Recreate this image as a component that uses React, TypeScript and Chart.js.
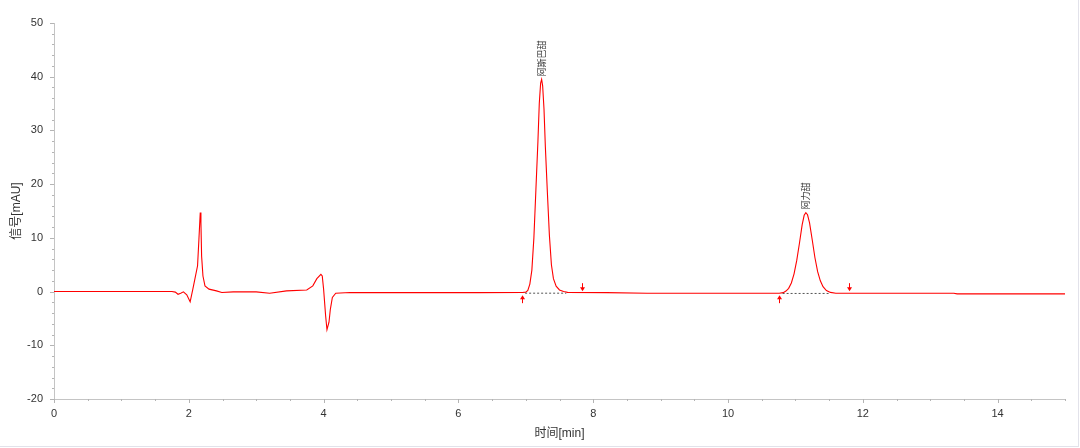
import React, { useEffect, useRef } from "react";
import { Chart, registerables } from "chart.js";

Chart.register(...registerables);

// Chromatogram trace: time [min] and signal [mAU]
const times: number[] = [
  0, 1.75, 1.8, 1.84, 1.88, 1.92, 1.97, 2.02, 2.06, 2.09, 2.13, 2.15, 2.17, 2.18,
  2.19, 2.21, 2.24, 2.3, 2.41, 2.49, 2.66, 3.0, 3.2, 3.45, 3.75, 3.84, 3.9, 3.96,
  3.98, 4.0, 4.03, 4.05, 4.08, 4.1, 4.13, 4.18, 4.39, 4.68, 5.5, 6.3, 6.95,
  7.0, 7.03, 7.06, 7.09, 7.12, 7.15, 7.18, 7.2, 7.22, 7.235, 7.25, 7.27, 7.29,
  7.32, 7.35, 7.38, 7.41, 7.45, 7.5, 7.56, 7.62, 8.2, 8.8, 9.6, 10.4, 10.76,
  10.82, 10.86, 10.9, 10.94, 10.98, 11.02, 11.06, 11.1, 11.13, 11.155, 11.18,
  11.21, 11.25, 11.29, 11.33, 11.37, 11.41, 11.46, 11.52, 11.6, 12.0, 12.8,
  13.35, 13.4, 14.2, 15,
];
const signal: number[] = [
  0, 0, -0.1, -0.5, -0.3, -0.05, -0.6, -1.9, 0.45, 2.3, 4.8, 9.7, 14.7, 12.8,
  6.6, 2.9, 1.06, 0.45, 0.13, -0.17, -0.05, -0.05, -0.3, 0.13, 0.3, 1.06, 2.4, 3.2,
  2.9, 0.45, -4.5, -7.1, -5.7, -3.3, -1.1, -0.3, -0.17, -0.2, -0.2, -0.2, -0.17,
  -0.1, 0.2, 1.4, 4.0, 10.0, 19.0, 28.0, 35.0, 38.8, 39.5, 38.3, 34.0, 27.0,
  18.5, 10.5, 5.0, 2.4, 1.0, 0.3, 0.0, -0.15, -0.2, -0.3, -0.3, -0.3, -0.3,
  -0.2, 0.1, 0.6, 1.6, 3.3, 5.8, 9.0, 12.4, 14.2, 14.7, 14.3,
  12.8, 9.6, 6.3, 3.7, 2.0, 0.9, 0.2, -0.15, -0.3, -0.32, -0.32,
  -0.32, -0.43, -0.43, -0.43,
];

// Integration baselines (start/end of each peak)
const baseStartT: number[] = [6.99, 10.81];
const baseStartV: number[] = [-0.3, -0.35];
const baseEndT: number[] = [7.6, 11.51];
const baseEndV: number[] = [-0.3, -0.35];

// Integration markers
const markerTimes: number[] = [6.95, 7.84, 10.76, 11.79];
const markerDirs: string[] = ["up", "down", "up", "down"];

// Peak labels
const peakNames: string[] = ["阿斯巴甜", "阿力甜"];
const peakTimes: number[] = [7.23, 11.155];
const peakHeights: number[] = [39.5, 14.7];

// Axis settings
const xMin = 0, xMax = 15, xStep = 0.5, xLabelEvery = 2;
const yMin = -20, yMax = 50, yStep = 2, yLabelEvery = 10;

const FONT = "'Liberation Sans', Arial, 'Noto Sans CJK SC', sans-serif";

const decorPlugin = {
  id: "decor",
  afterDatasetsDraw(chart: any) {
    const { ctx, chartArea, scales } = chart;
    const xs = scales.x, ys = scales.y;
    ctx.save();
    // tick marks
    ctx.strokeStyle = "#b4b4b4";
    ctx.lineWidth = 1;
    xs.ticks.forEach((t: any) => {
      const px = Math.round(xs.getPixelForValue(t.value)) + 0.5;
      const major = Math.abs(t.value % xLabelEvery) < 1e-6;
      ctx.beginPath();
      ctx.moveTo(px, chartArea.bottom);
      ctx.lineTo(px, chartArea.bottom + (major ? 4 : 2));
      ctx.stroke();
    });
    ys.ticks.forEach((t: any) => {
      const py = Math.round(ys.getPixelForValue(t.value)) + 0.5;
      const major = Math.abs(t.value % yLabelEvery) < 1e-6;
      ctx.beginPath();
      ctx.moveTo(chartArea.left - (major ? 4 : 2), py);
      ctx.lineTo(chartArea.left, py);
      ctx.stroke();
    });
    // markers
    ctx.strokeStyle = "#ff0000";
    ctx.fillStyle = "#ff0000";
    markerTimes.forEach((t, i) => {
      const px = Math.round(xs.getPixelForValue(t)) + 0.5;
      const py = ys.getPixelForValue(-0.3);
      ctx.beginPath();
      if (markerDirs[i] === "up") {
        const tip = py + 2;
        ctx.moveTo(px, tip + 2);
        ctx.lineTo(px, tip + 8);
        ctx.stroke();
        ctx.beginPath();
        ctx.moveTo(px, tip);
        ctx.lineTo(px - 2.5, tip + 4);
        ctx.lineTo(px + 2.5, tip + 4);
        ctx.closePath();
        ctx.fill();
      } else {
        const tip = py - 2;
        ctx.moveTo(px, tip - 2);
        ctx.lineTo(px, tip - 8);
        ctx.stroke();
        ctx.beginPath();
        ctx.moveTo(px, tip);
        ctx.lineTo(px - 2.5, tip - 4);
        ctx.lineTo(px + 2.5, tip - 4);
        ctx.closePath();
        ctx.fill();
      }
    });
    // peak labels
    ctx.fillStyle = "#333333";
    ctx.font = "9px 'Noto Sans CJK SC', sans-serif";
    ctx.textAlign = "left";
    ctx.textBaseline = "middle";
    peakNames.forEach((name, i) => {
      const px = xs.getPixelForValue(peakTimes[i]);
      const py = ys.getPixelForValue(peakHeights[i]);
      ctx.save();
      ctx.translate(px, py - 3);
      ctx.rotate(-Math.PI / 2);
      ctx.fillText(name, 0, 0);
      ctx.restore();
    });
    ctx.restore();
  },
};

export default function App() {
  const ref = useRef<HTMLCanvasElement | null>(null);
  useEffect(() => {
    if (!ref.current) return;
    const trace = times.map((t, i) => ({ x: t, y: signal[i] }));
    const baseSets = baseStartT.map((t, i) => ({
      data: [
        { x: t, y: baseStartV[i] },
        { x: baseEndT[i], y: baseEndV[i] },
      ],
      borderColor: "#555555",
      borderWidth: 1,
      borderDash: [2, 2],
      pointRadius: 0,
    }));
    const chart = new Chart(ref.current, {
      type: "line",
      data: {
        datasets: [
          ...baseSets,
          {
            data: trace,
            borderColor: "#ff0000",
            borderWidth: 1.1,
            pointRadius: 0,
            tension: 0,
          },
        ],
      },
      options: {
        responsive: false,
        animation: false,
        layout: { padding: { top: 23, right: 15, bottom: 0, left: 0 } },
        plugins: { legend: { display: false }, tooltip: { enabled: false } },
        scales: {
          x: {
            type: "linear",
            min: xMin,
            max: xMax,
            grid: { display: false, drawTicks: false },
            border: { color: "#c4c4c4" },
            ticks: {
              stepSize: xStep,
              autoSkip: false,
              maxRotation: 0,
              padding: 8,
              color: "#333333",
              font: { family: FONT, size: 11 },
              callback: (v: any) => (Math.abs(v % xLabelEvery) < 1e-6 ? String(v) : ""),
            },
            title: {
              display: true,
              text: "时间[min]",
              color: "#333333",
              font: { family: FONT, size: 12 },
              padding: { top: 0, bottom: 7 },
            },
            afterFit: (s: any) => {
              s.height = 49;
            },
          },
          y: {
            min: yMin,
            max: yMax,
            grid: { display: false, drawTicks: false },
            border: { color: "#c4c4c4" },
            ticks: {
              stepSize: yStep,
              autoSkip: false,
              padding: 11,
              color: "#333333",
              font: { family: FONT, size: 11 },
              callback: (v: any) => (Math.abs(v % yLabelEvery) < 1e-6 ? String(v) : ""),
            },
            title: {
              display: true,
              text: "信号[mAU]",
              color: "#333333",
              font: { family: FONT, size: 12 },
              padding: { top: 9, bottom: 0 },
            },
            afterFit: (s: any) => {
              s.width = 54;
            },
          },
        },
      },
      plugins: [decorPlugin],
    });
    return () => chart.destroy();
  }, []);
  return (
    <div style={{ position: "fixed", left: 0, top: 0, width: 1080, height: 448, background: "#ffffff" }}>
      <canvas ref={ref} width={1080} height={448} style={{ position: "absolute", left: 0, top: 0 }} />
      <div style={{ position: "absolute", left: 0, top: 446, width: 1079, height: 1, background: "#e2e2ea" }} />
      <div style={{ position: "absolute", left: 1078, top: 0, width: 1, height: 447, background: "#e2e2ea" }} />
    </div>
  );
}
